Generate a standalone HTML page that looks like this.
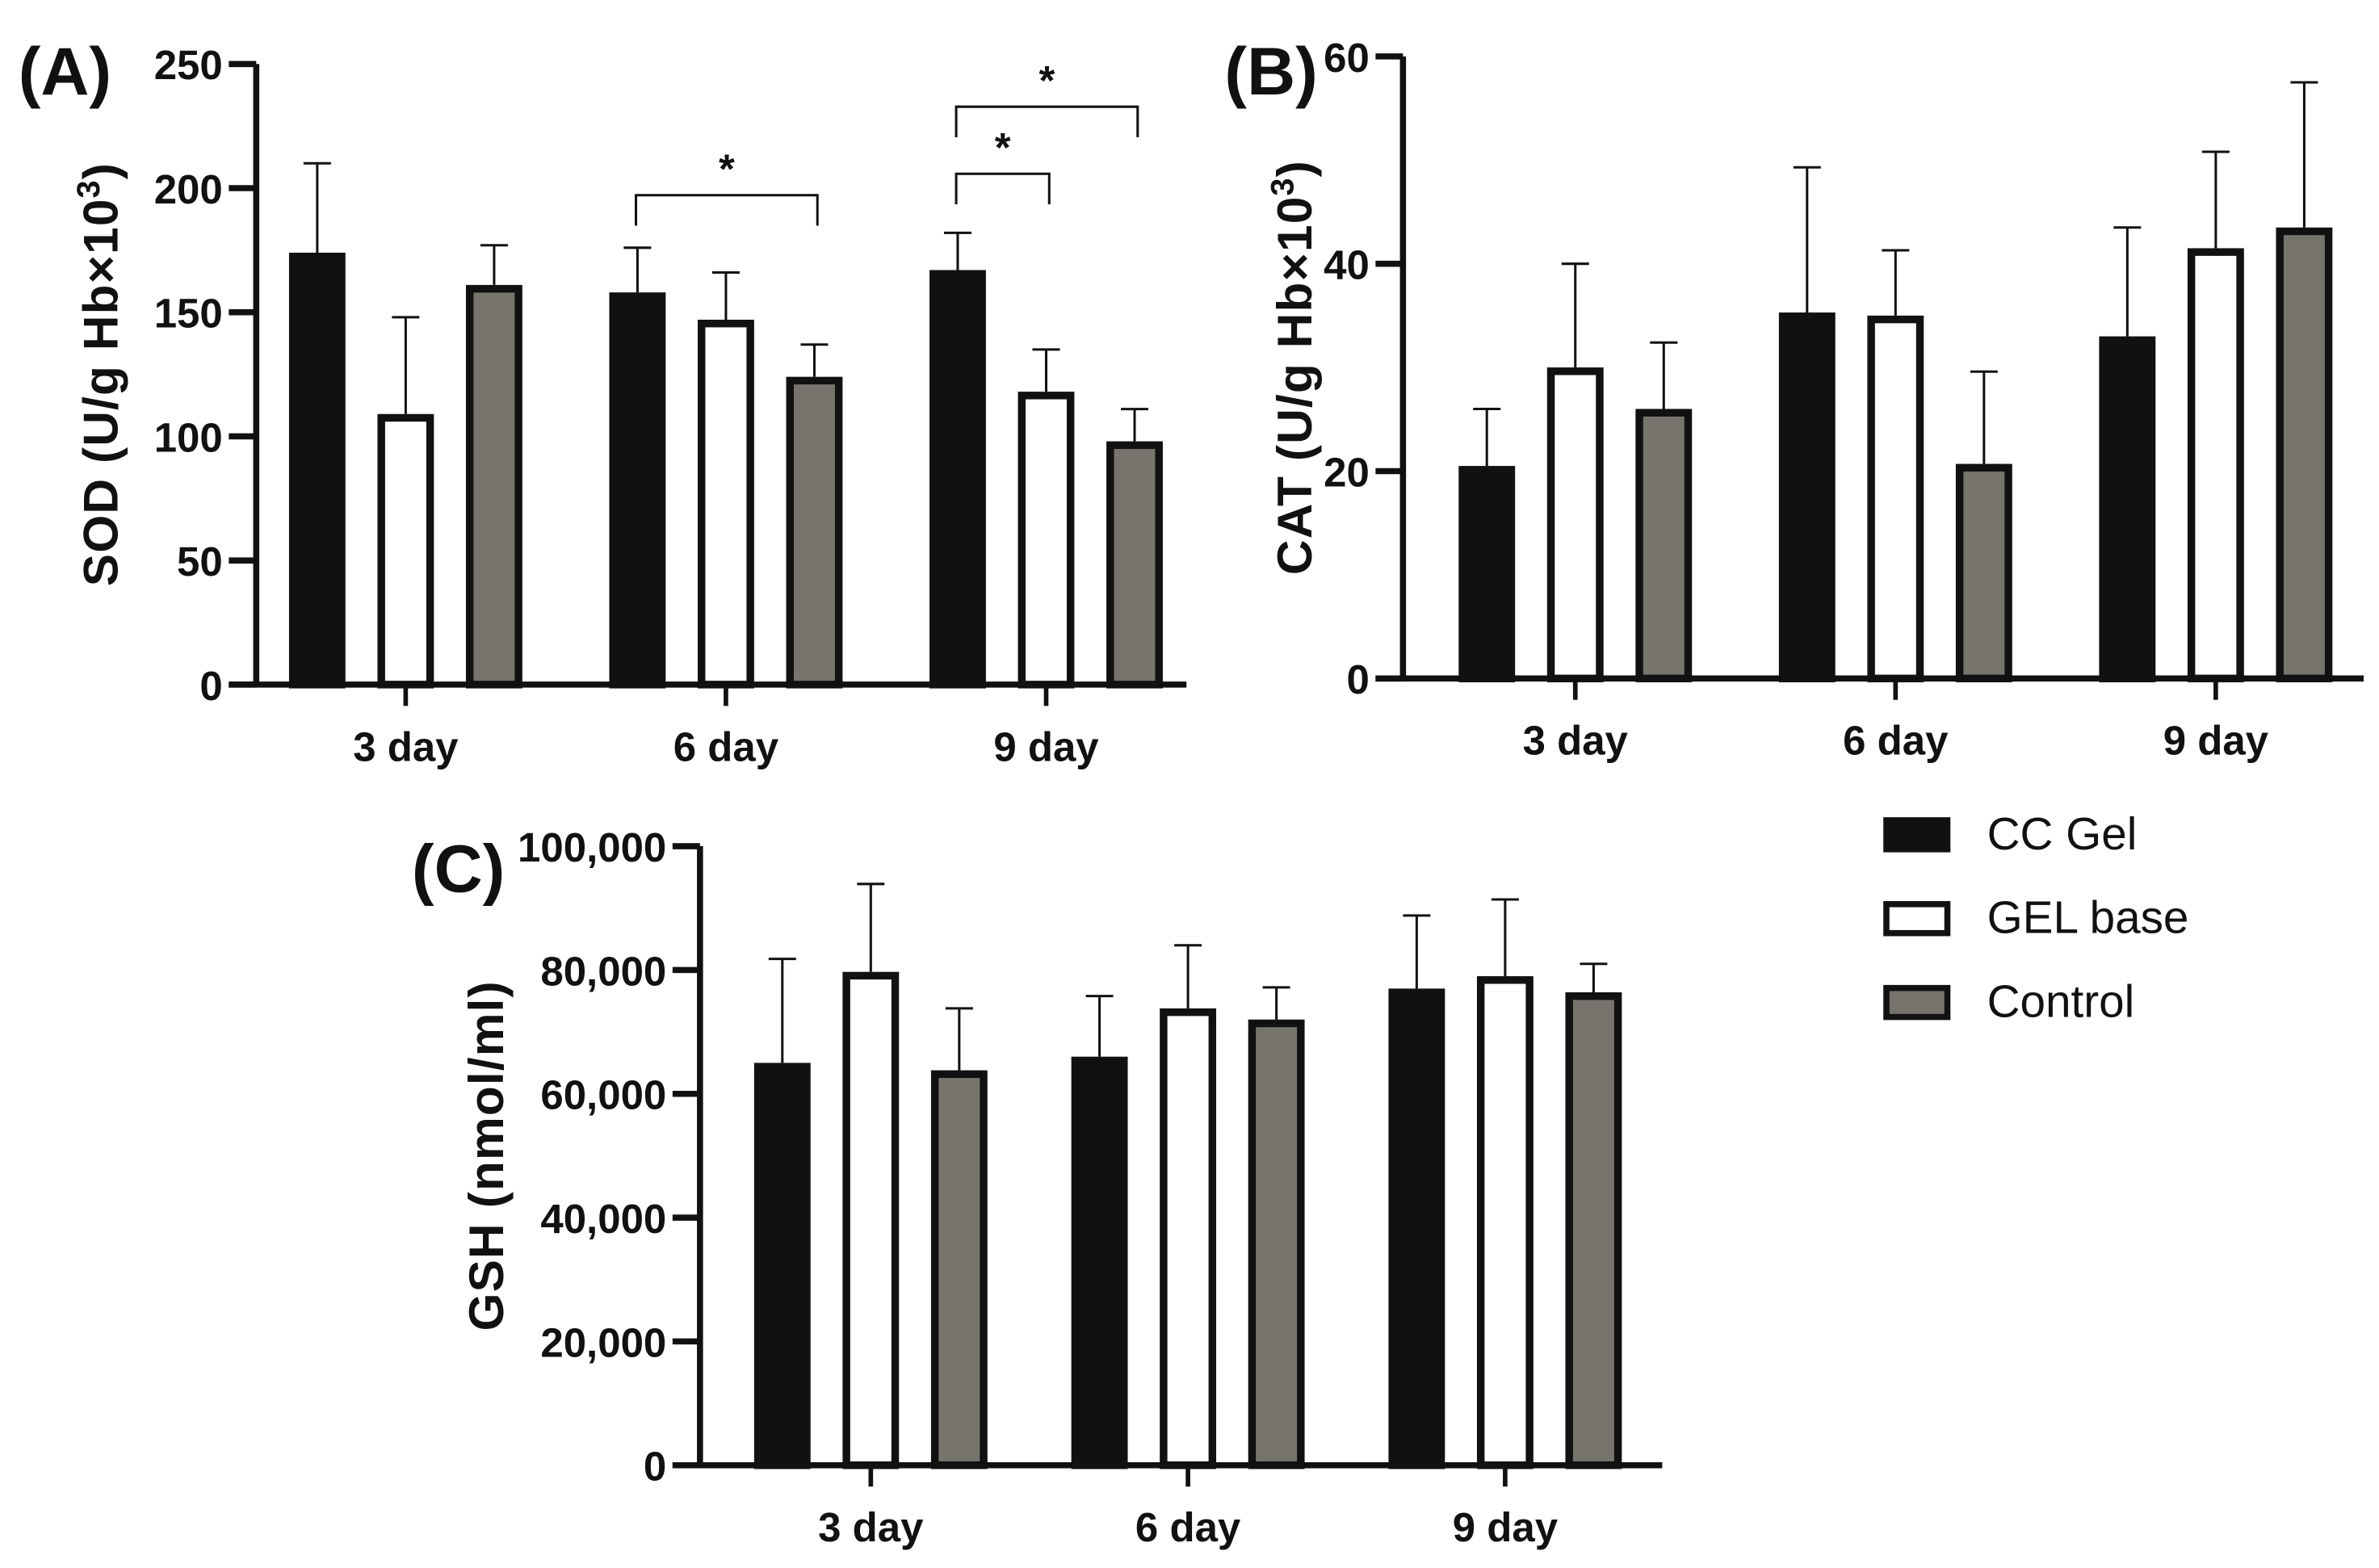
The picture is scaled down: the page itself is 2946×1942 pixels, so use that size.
<!DOCTYPE html>
<html><head><meta charset="utf-8"><style>
html,body{margin:0;padding:0;background:#fff;}
svg{display:block;}
.tk{font-family:"Liberation Sans Narrow","Liberation Sans",sans-serif;font-weight:bold;font-size:27px;fill:#111;}
.ttl{font-family:"Liberation Sans",sans-serif;font-weight:bold;font-size:32px;letter-spacing:0.6px;fill:#111;}
.star{font-family:"Liberation Sans",sans-serif;font-weight:bold;font-size:27px;fill:#111;}
.pl{font-family:"Liberation Sans Narrow","Liberation Sans",sans-serif;font-weight:bold;font-size:44px;fill:#111;}
.lg{font-family:"Liberation Sans",sans-serif;font-size:30px;fill:#111;}
</style></head><body>
<svg id="fig" width="2946" height="1942" viewBox="0 0 1560 1028.4" xmlns="http://www.w3.org/2000/svg">
<rect width="1560" height="1028.4" fill="#fff"/>
<g id="legend">
 <g><rect x="1237" y="538" width="40" height="19" fill="#111" stroke="#111" stroke-width="4"/><text class="lg" x="1303" y="557">CC Gel</text></g>
 <g><rect x="1237" y="593" width="40" height="19" fill="#fff" stroke="#111" stroke-width="4"/><text class="lg" x="1303" y="612">GEL base</text></g>
 <g><rect x="1237" y="648" width="40" height="19" fill="#77736d" stroke="#111" stroke-width="4"/><text class="lg" x="1303" y="667">Control</text></g>
</g>
</svg>
<script>
const categories = ["3 day","6 day","9 day"];
const seriesNames = ["CC Gel","GEL base","Control"];
const sodCC = [174,158,167];
const sodGEL = [109,147,118];
const sodCtrl = [161,124,98];
const sodErrCC = [36,18,15];
const sodErrGEL = [39,19,17];
const sodErrCtrl = [16,13,13];
const sodTicks = [0,50,100,150,200,250];
const catCC = [20.5,35.3,33];
const catGEL = [30,35,41.5];
const catCtrl = [26,20.7,43.5];
const catErrCC = [5.5,14,10.5];
const catErrGEL = [10,6.3,9.3];
const catErrCtrl = [6.4,8.9,14];
const catTicks = [0,20,40,60];
const gshCC = [65000,66000,77000];
const gshGEL = [79700,73800,79000];
const gshCtrl = [63800,72000,76400];
const gshErrCC = [16800,9800,11800];
const gshErrGEL = [14200,10200,12400];
const gshErrCtrl = [10000,5200,4600];
const gshTicks = [0,20000,40000,60000,80000,100000];
const gshTickLabels = ["0","20,000","40,000","60,000","80,000","100,000"];

const NS="http://www.w3.org/2000/svg";
const svg=document.getElementById('fig');
const fills=["#111","#fff","#77736d"];
function mk(tag,attrs,parent){const e=document.createElementNS(NS,tag);for(const k in attrs)e.setAttribute(k,attrs[k]);parent.appendChild(e);return e;}

function panel(p){
  const g=mk('g',{},svg);
  
  
  const y=v=>p.y0-(v/p.max)*(p.y0-p.yTop);
  const x=(ci,si)=>p.c0+ci*p.cStep+(si-1)*p.bStep;
  const vals=[p.cc,p.gel,p.ctrl], errs=[p.ecc,p.egel,p.ectrl];
  for(let ci=0;ci<categories.length;ci++){
    for(let si=0;si<3;si++){
      const cx=x(ci,si), v=vals[si][ci], top=y(v), et=y(v+errs[si][ci]);
      const eb=mk('path',{d:`M${cx} ${top} V${et} M${cx-9} ${et} H${cx+9}`,stroke:'#111','stroke-width':1.6,fill:'none'},g);
      
      
      const r=mk('rect',{x:cx-16,y:top+2.5,width:32,height:p.y0-top-2.5,fill:fills[si],stroke:'#111','stroke-width':5},g);
      
      
    }
  }
  const ax=mk('path',{d:`M${p.ax} ${p.yTop} V${p.y0} M${p.ax-18} ${p.y0} H${p.xEnd}`,stroke:'#111','stroke-width':4,fill:'none'},g);
  
  
  p.ticks.forEach((t,i)=>{
    mk('line',{x1:p.ax-18,x2:p.ax,y1:y(t),y2:y(t),stroke:'#111','stroke-width':4},g);
    const tx=mk('text',{x:p.ax-22,y:y(t)+10,'text-anchor':'end',class:'tk'},g);
    tx.textContent=p.labels?p.labels[i]:String(t);
    
    
  });
  categories.forEach((c,ci)=>{
    const cx=x(ci,1);
    mk('line',{x1:cx,x2:cx,y1:p.y0,y2:p.y0+14,stroke:'#111','stroke-width':3},g);
    const tx=mk('text',{x:cx,y:p.y0+50,'text-anchor':'middle',class:'tk'},g);
    tx.textContent=c;
    
    
  });
  const tt=mk('text',{x:0,y:0,'text-anchor':'middle',class:'ttl',transform:`translate(${p.titleX},${(p.y0+p.yTop)/2}) rotate(-90)`},g);
  tt.innerHTML=p.title;
  
  
  const pl=mk('text',{x:p.plX,y:p.plY,class:'pl'},g);
  pl.textContent=p.pl;
  
  
  return {g,x,y};
}

const A=panel({name:'panel-a-sod',cc:sodCC,gel:sodGEL,ctrl:sodCtrl,ecc:sodErrCC,egel:sodErrGEL,ectrl:sodErrCtrl,ticks:sodTicks,max:250,
 y0:449,yTop:42,ax:168,xEnd:778,c0:266,cStep:210,bStep:58,titleX:77,
 title:'SOD (U/g Hb×10<tspan dy="-12" font-size="21">3</tspan><tspan dy="12">)</tspan>',pl:'(A)',plX:12,plY:62});
panel({name:'panel-b-cat',cc:catCC,gel:catGEL,ctrl:catCtrl,ecc:catErrCC,egel:catErrGEL,ectrl:catErrCtrl,ticks:catTicks,max:60,
 y0:445,yTop:37,ax:920,xEnd:1550,c0:1033,cStep:210,bStep:58,titleX:860,
 title:'CAT (U/g Hb×10<tspan dy="-12" font-size="21">3</tspan><tspan dy="12">)</tspan>',pl:'(B)',plX:803,plY:62});
panel({name:'panel-c-gsh',cc:gshCC,gel:gshGEL,ctrl:gshCtrl,ecc:gshErrCC,egel:gshErrGEL,ectrl:gshErrCtrl,ticks:gshTicks,labels:gshTickLabels,max:100000,
 y0:961,yTop:555,ax:459,xEnd:1090,c0:571,cStep:208,bStep:58,titleX:330,
 title:'GSH (nmol/ml)',pl:'(C)',plX:270,plY:585});

const sigPairs=[[1,0,2,128],[2,0,1,114],[2,0,2,70]];
sigPairs.forEach(s=>{
  const x1=A.x(s[0],s[1])-1, x2=A.x(s[0],s[2])+2, yy=s[3];
  const b=mk('path',{d:`M${x1} ${yy+20} V${yy} H${x2} V${yy+20}`,stroke:'#111','stroke-width':1.6,fill:'none'},A.g);
  
  
  const st=mk('text',{x:(x1+x2)/2,y:yy-8,'text-anchor':'middle',class:'star'},A.g);
  st.textContent='*';
  
  
});
</script>
</body></html>
